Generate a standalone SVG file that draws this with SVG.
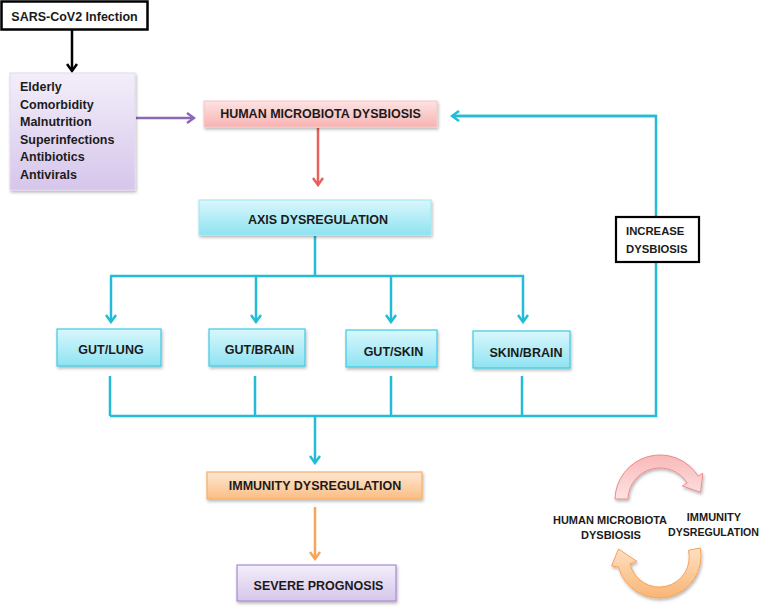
<svg xmlns="http://www.w3.org/2000/svg" width="761" height="608" viewBox="0 0 761 608">
<defs>
<style>
text{font-family:"Liberation Sans",Arial,sans-serif;font-weight:bold;fill:#1b1b1b;}
.m{font-size:12.5px;text-anchor:middle;}
.s{font-size:11.3px;}
.c{font-size:11px;text-anchor:middle;}
.ln{fill:none;stroke-width:2.5;stroke-linecap:butt;stroke-linejoin:miter;}
.cy{stroke:#22bcd6;}
</style>
<linearGradient id="gPurple" x1="0" y1="0" x2="0" y2="1"><stop offset="0" stop-color="#f3eefa"/><stop offset="1" stop-color="#d6c6eb"/></linearGradient>
<linearGradient id="gPink" x1="0" y1="0" x2="0" y2="1"><stop offset="0" stop-color="#fde3e3"/><stop offset="1" stop-color="#f7b3b2"/></linearGradient>
<linearGradient id="gCyan" x1="0" y1="0" x2="0" y2="1"><stop offset="0" stop-color="#d9f7fc"/><stop offset="1" stop-color="#8fe3f2"/></linearGradient>
<linearGradient id="gOrange" x1="0" y1="0" x2="0" y2="1"><stop offset="0" stop-color="#fee8d2"/><stop offset="1" stop-color="#fbbd84"/></linearGradient>
<linearGradient id="gArcR" x1="0" y1="0" x2="0" y2="1"><stop offset="0" stop-color="#f9b9b9"/><stop offset="1" stop-color="#fde2e2"/></linearGradient>
<linearGradient id="gArcO" x1="0" y1="1" x2="0" y2="0"><stop offset="0" stop-color="#f9b574"/><stop offset="1" stop-color="#fde0c2"/></linearGradient>
<filter id="sh" x="-10%" y="-20%" width="130%" height="160%"><feDropShadow dx="1" dy="2" stdDeviation="1.5" flood-color="#000" flood-opacity="0.28"/></filter>
<marker id="aK" viewBox="0 0 12 12" refX="10" refY="6" markerWidth="12" markerHeight="12" markerUnits="userSpaceOnUse" orient="auto"><path d="M3,1 L10,6 L3,11" fill="none" stroke="#000" stroke-width="2.5"/></marker>
<marker id="aP" viewBox="0 0 12 12" refX="10" refY="6" markerWidth="12" markerHeight="12" markerUnits="userSpaceOnUse" orient="auto"><path d="M3,1 L10,6 L3,11" fill="none" stroke="#8a68b8" stroke-width="2.5"/></marker>
<marker id="aR" viewBox="0 0 12 12" refX="10" refY="6" markerWidth="12" markerHeight="12" markerUnits="userSpaceOnUse" orient="auto"><path d="M3,1 L10,6 L3,11" fill="none" stroke="#e8605c" stroke-width="2.5"/></marker>
<marker id="aC" viewBox="0 0 12 12" refX="10" refY="6" markerWidth="12" markerHeight="12" markerUnits="userSpaceOnUse" orient="auto"><path d="M3,1 L10,6 L3,11" fill="none" stroke="#22bcd6" stroke-width="2.5"/></marker>
<marker id="aO" viewBox="0 0 12 12" refX="10" refY="6" markerWidth="12" markerHeight="12" markerUnits="userSpaceOnUse" orient="auto"><path d="M3,1 L10,6 L3,11" fill="none" stroke="#f6a55b" stroke-width="2.5"/></marker>
</defs>
<rect width="761" height="608" fill="#fff"/>

<g id="connectors">
<line class="ln" x1="72" y1="30" x2="72" y2="71" stroke="#000" marker-end="url(#aK)"/>
<line class="ln" x1="136" y1="118" x2="194" y2="118" stroke="#8a68b8" marker-end="url(#aP)"/>
<line class="ln" x1="318" y1="128" x2="318" y2="185" stroke="#e8605c" marker-end="url(#aR)"/>
<path class="ln cy" d="M315,236 V276 M110,276 H524"/>
<line class="ln cy" x1="111" y1="276" x2="111" y2="322" marker-end="url(#aC)"/>
<line class="ln cy" x1="256" y1="276" x2="256" y2="322" marker-end="url(#aC)"/>
<line class="ln cy" x1="391" y1="276" x2="391" y2="322" marker-end="url(#aC)"/>
<line class="ln cy" x1="523" y1="275" x2="523" y2="322" marker-end="url(#aC)"/>
<path class="ln cy" d="M110,376 V416 M255,376 V416 M391,376 V416 M522,376 V416 M110,416 H656 V116 H452"/>
<line class="ln cy" x1="656" y1="116" x2="452" y2="116" marker-end="url(#aC)"/>
<line class="ln cy" x1="315" y1="416" x2="315" y2="463" marker-end="url(#aC)"/>
<line class="ln" x1="315" y1="507" x2="315" y2="559" stroke="#f6a55b" marker-end="url(#aO)"/>
</g>

<g id="sars">
<rect x="1.5" y="1.5" width="146" height="28" fill="#fff" stroke="#000" stroke-width="2.5"/>
<text x="74.5" y="21" class="m">SARS-CoV2 Infection</text>
</g>

<g id="factors">
<rect x="10" y="73" width="125" height="117" fill="url(#gPurple)" stroke="#e3d8f1" stroke-width="1" filter="url(#sh)"/>
<text x="20" y="91" style="font-size:12.5px">Elderly</text>
<text x="20" y="108.6" style="font-size:12.5px">Comorbidity</text>
<text x="20" y="126.2" style="font-size:12.5px">Malnutrition</text>
<text x="20" y="143.8" style="font-size:12.5px">Superinfections</text>
<text x="20" y="161.4" style="font-size:12.5px">Antibiotics</text>
<text x="20" y="179" style="font-size:12.5px">Antivirals</text>
</g>

<g id="dysbiosis">
<rect x="204" y="101" width="233" height="26" fill="url(#gPink)" stroke="#f5c4c4" stroke-width="1" filter="url(#sh)"/>
<text x="320.5" y="118.3" class="m">HUMAN MICROBIOTA DYSBIOSIS</text>
</g>

<g id="axis">
<rect x="199" y="200" width="232" height="35" fill="url(#gCyan)" stroke="#9fe6f2" stroke-width="1" filter="url(#sh)"/>
<text x="318" y="223.5" class="m">AXIS DYSREGULATION</text>
</g>

<g id="gutlung">
<rect x="57" y="329" width="104" height="37" fill="url(#gCyan)" stroke="#3ccbe3" stroke-width="1.2" filter="url(#sh)"/>
<text x="111" y="354.3" class="m">GUT/LUNG</text>
</g>
<g id="gutbrain">
<rect x="209" y="329" width="96" height="37" fill="url(#gCyan)" stroke="#3ccbe3" stroke-width="1.2" filter="url(#sh)"/>
<text x="259.5" y="354.3" class="m">GUT/BRAIN</text>
</g>
<g id="gutskin">
<rect x="346" y="330" width="91" height="37" fill="url(#gCyan)" stroke="#3ccbe3" stroke-width="1.2" filter="url(#sh)"/>
<text x="393.5" y="355.5" class="m">GUT/SKIN</text>
</g>
<g id="skinbrain">
<rect x="473" y="331" width="97" height="37" fill="url(#gCyan)" stroke="#3ccbe3" stroke-width="1.2" filter="url(#sh)"/>
<text x="526" y="357" class="m">SKIN/BRAIN</text>
</g>

<g id="increase">
<rect x="616" y="217" width="83" height="45" fill="#fff" stroke="#000" stroke-width="2.2"/>
<text x="626" y="235" class="s">INCREASE</text>
<text x="626" y="252.7" class="s">DYSBIOSIS</text>
</g>

<g id="immunity">
<rect x="207" y="472" width="215" height="27" fill="url(#gOrange)" stroke="#f7ad68" stroke-width="1.2" filter="url(#sh)"/>
<text x="315" y="490" class="m">IMMUNITY DYSREGULATION</text>
</g>

<g id="severe">
<rect x="237" y="565" width="159" height="36" fill="url(#gPurple)" stroke="#a88bd0" stroke-width="1.2" filter="url(#sh)"/>
<text x="318.5" y="590" class="m">SEVERE PROGNOSIS</text>
</g>

<g id="cycle">
<path d="M615,499 A45,45 0 0 1 698.2,476.2 L702.8,473.2 L700.6,492.3 L682.4,486 L687.1,483 A32,32 0 0 0 628,499 Z" fill="url(#gArcR)" stroke="#ec8a8a" stroke-width="1" filter="url(#sh)"/>
<path d="M700.2,548 A42,42 0 0 1 618.4,566.9 L611.5,566 L618.5,549 L637,561.5 L630,563.8 A30,30 0 0 0 688.5,550.3 Z" fill="url(#gArcO)" stroke="#f5a35c" stroke-width="1" filter="url(#sh)"/>
<text x="610" y="524.3" class="c">HUMAN MICROBIOTA</text>
<text x="611" y="539" class="c">DYSBIOSIS</text>
<text x="714" y="520.7" class="c">IMMUNITY</text>
<text x="713.5" y="536" class="c" style="font-size:10.6px">DYSREGULATION</text>
</g>
</svg>
